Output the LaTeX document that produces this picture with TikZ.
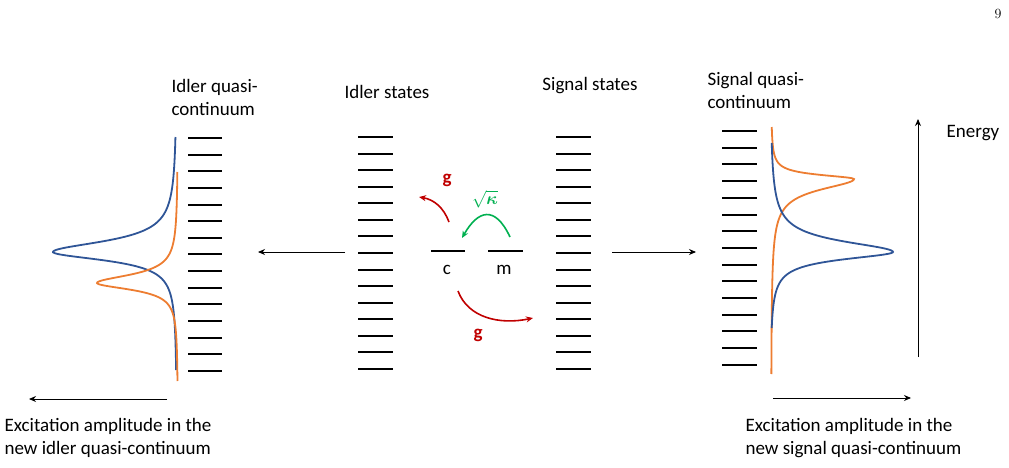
\documentclass[tikz,border=0pt]{standalone}
\usepackage{amsmath,amssymb}
\usepackage{fontspec}
\setmainfont{Carlito}
\newfontfamily\lmfont{Latin Modern Roman}
\usetikzlibrary{arrows.meta}
\definecolor{cblue}{RGB}{47,85,151}
\definecolor{corange}{RGB}{237,125,49}
\definecolor{cred}{RGB}{192,0,0}
\definecolor{cgreen}{RGB}{0,176,80}
\begin{document}
\begin{tikzpicture}[x=1pt,y=-1pt,
  lvl/.style={line width=2pt},
  lbl/.style={font=\fontsize{19}{23}\selectfont, align=left},
  arr/.style={-{Stealth[length=7pt,width=6pt]}, line width=0.9pt},
  curve/.style={line width=1.8pt}]
\useasboundingbox (0,0) rectangle (1009,468);
\node at (998,14) {\fontsize{14}{16}\selectfont\lmfont 9};
% stacks
\foreach \i in {0,...,14}{
  \draw[lvl] (188,{138+\i*16.64}) -- (222,{138+\i*16.64});
  \draw[lvl] (358,{137+\i*16.57}) -- (393,{137+\i*16.57});
  \draw[lvl] (556,{137+\i*16.57}) -- (591,{137+\i*16.57});
  \draw[lvl] (722,{131+\i*16.7}) -- (757,{131+\i*16.7});
}
% c and m
\draw[lvl] (431,251) -- (465,251);
\draw[lvl] (488,251) -- (523,251);
\node[lbl] (c) at (447,270) {c};
\node[lbl] (m) at (504,270) {m};
% arrows
\coordinate (r1a) at (449,222); \coordinate (r1b) at (419,197);
\draw[arr,cred,line width=1.6pt] (r1a) to[bend right=30] (r1b);
\node[lbl,text=cred] (g1) at (447,180) {\textbf{g}};
\coordinate (ga) at (510,237); \coordinate (gb) at (462,238);
\draw[arr,cgreen,line width=1.6pt] (ga) .. controls (495,205) and (478,210) .. (gb);
\node[text=cgreen] (k) at (485,199) {\fontsize{19}{22}\selectfont$\sqrt{\boldsymbol{\kappa}}$};
\coordinate (r2a) at (458,291); \coordinate (r2b) at (533,318);
\draw[arr,cred,line width=1.6pt] (r2a) .. controls (468,318) and (500,325) .. (r2b);
\node[lbl,text=cred] (g2) at (478,335) {\textbf{g}};
% horizontal arrows
\coordinate (h1a) at (345,252); \coordinate (h1b) at (258,252);
\draw[arr] (h1a) -- (h1b);
\coordinate (h2a) at (612,252); \coordinate (h2b) at (696,252);
\draw[arr] (h2a) -- (h2b);
\coordinate (b1a) at (167,399); \coordinate (b1b) at (29,399);
\draw[arr] (b1a) -- (b1b);
\coordinate (b2a) at (773,398); \coordinate (b2b) at (911,398);
\draw[arr] (b2a) -- (b2b);
\coordinate (ea) at (918,357); \coordinate (eb) at (918,119);
\draw[arr] (ea) -- (eb);
% curves left
\draw[curve,cblue] plot[domain=137:370,samples=300,smooth] ({177-124/(1+((\x-252)/(\x<252?13:10))^2)},\x);
\draw[curve,corange] plot[domain=172:381,samples=300,smooth] ({178-81/(1+((\x-283)/(\x<283?10:8))^2)},\x);
% curves right
\draw[curve,corange] plot[domain=127:374,samples=300,smooth] ({771+83/(1+((\x-179)/(\x<179?5:13))^2)},\x);
\draw[curve,cblue] plot[domain=143:328,samples=300,smooth] ({770+123/(1+((\x-252)/(\x<252?13:9))^2)},\x);
% texts
\node[lbl,anchor=west] (t1) at (168,97) {Idler quasi-\\continuum};
\node[lbl] (t2) at (387,92) {Idler states};
\node[lbl] (t3) at (590,86) {Signal states};
\node[lbl,anchor=west] (t4) at (704,90) {Signal quasi-\\continuum};
\node[lbl] (t5) at (973,133) {Energy};
\node[lbl,anchor=west] (t6) at (1,438) {Excitation amplitude in the\\new idler quasi-continuum};
\node[lbl,anchor=west] (t7) at (742,438) {Excitation amplitude in the\\new signal quasi-continuum};
\end{tikzpicture}
\end{document}
